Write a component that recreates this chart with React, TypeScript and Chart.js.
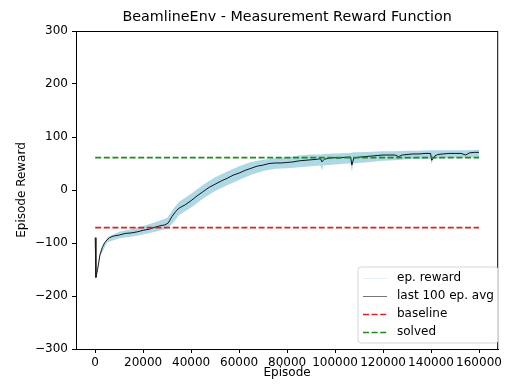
import React, { useEffect, useRef } from "react";
import { Chart, registerables } from "chart.js";

Chart.register(...registerables);

const TITLE = "BeamlineEnv - Measurement Reward Function";
const X_LABEL = "Episode";
const Y_LABEL = "Episode Reward";

const X_TICKS = [0, 20000, 40000, 60000, 80000, 100000, 120000, 140000, 160000];
const Y_TICKS = [-300, -200, -100, 0, 100, 200, 300];

// last 100 episode average
const AVG_X = [0, 300, 1000, 2000, 3000, 4000, 5000, 6000, 7500, 10000, 12500, 15000, 17500, 20000, 22500, 25000, 27500, 29000, 30500, 32000, 33500, 35000, 37500, 40000, 42500, 45000, 47500, 50000, 52500, 55000, 57500, 60000, 62500, 65000, 67500, 70000, 72500, 75000, 77500, 80000, 82500, 85000, 87500, 90000, 92500, 94000, 94500, 95500, 97500, 100000, 101000, 102500, 105000, 106500, 107000, 107800, 110000, 112500, 115000, 117500, 120000, 122500, 125000, 126500, 128000, 130000, 132500, 135000, 137500, 139800, 140300, 141500, 142800, 145000, 147500, 150000, 152500, 154500, 156000, 158000, 160000];
const AVG_Y = [-90, -165, -150, -122, -108, -99, -94, -90, -87, -85, -82, -81, -79, -76, -74, -70, -67, -66, -62, -50, -41, -34, -28, -20, -11, -3, 5, 11, 17, 22, 28, 32, 37, 41, 45, 47, 50, 51, 51, 52, 53, 55, 56, 57, 58, 59, 53, 58, 60, 61, 60, 61, 62, 62, 47, 60, 62, 63, 64, 65, 66, 66, 66, 63, 66, 67, 68, 68, 69, 69, 56, 64, 67, 68, 69, 69, 69, 66, 70, 71, 71];

// ep. reward envelope (high / low)
const EP_X = [2000, 5000, 10000, 15000, 20000, 25000, 30000, 32500, 35000, 40000, 45000, 50000, 55000, 60000, 65000, 70000, 75000, 80000, 85000, 90000, 94000, 94500, 95000, 100000, 105000, 106500, 107000, 107500, 110000, 115000, 120000, 125000, 130000, 135000, 139800, 140300, 140800, 145000, 150000, 155000, 160000];
const EP_HIGH = [-118, -89, -79, -74, -68, -61, -53, -36, -22, -7, 10, 24, 35, 45, 53, 57, 60, 62, 65, 67, 67, 67, 68, 69, 70, 70, 70, 71, 71, 72, 73, 73, 74, 74, 75, 75, 75, 75, 75, 75, 76];
const EP_LOW = [-126, -99, -91, -88, -84, -79, -73, -62, -47, -33, -16, -2, 9, 19, 29, 36, 40, 41, 43, 45, 46, 36, 46, 48, 50, 50, 34, 50, 51, 53, 55, 56, 58, 59, 59, 48, 59, 60, 61, 61, 62];

const BASELINE = -71;
const SOLVED = 61;
const LINE_X = [0, 160000];

const LEGEND_LABELS = ["ep. reward", "last 100 ep. avg", "baseline", "solved"];

const FONT = "'DejaVu Sans', sans-serif";

export default function App() {
  const ref = useRef<HTMLCanvasElement | null>(null);

  useEffect(() => {
    if (!ref.current) return;
    const pts = (xs: number[], ys: number[]) => xs.map((x, i) => ({ x, y: ys[i] }));

    const decor = {
      id: "decor",
      afterDraw(chart: any) {
        const { ctx, chartArea } = chart;
        const { left, right, top, bottom } = chartArea;
        ctx.save();
        // frame
        ctx.strokeStyle = "#000";
        ctx.lineWidth = 1;
        ctx.strokeRect(left + 0.5, top + 0.5, right - left - 1, bottom - top);
        // title
        ctx.fillStyle = "#000";
        ctx.textAlign = "center";
        ctx.textBaseline = "middle";
        ctx.font = `14.3px ${FONT}`;
        ctx.fillText(TITLE, (left + right) / 2, 17);
        ctx.font = `12px ${FONT}`;
        ctx.fillText(X_LABEL, (left + right) / 2, 373);
        ctx.save();
        ctx.translate(22, (top + bottom) / 2);
        ctx.rotate(-Math.PI / 2);
        ctx.fillText(Y_LABEL, 0, 0);
        ctx.restore();
        // legend
        const bx = 358, by = 267, bw = 140, bh = 76, r = 3;
        ctx.beginPath();
        ctx.moveTo(bx + r, by);
        ctx.lineTo(bx + bw - r, by);
        ctx.quadraticCurveTo(bx + bw, by, bx + bw, by + r);
        ctx.lineTo(bx + bw, by + bh - r);
        ctx.quadraticCurveTo(bx + bw, by + bh, bx + bw - r, by + bh);
        ctx.lineTo(bx + r, by + bh);
        ctx.quadraticCurveTo(bx, by + bh, bx, by + bh - r);
        ctx.lineTo(bx, by + r);
        ctx.quadraticCurveTo(bx, by, bx + r, by);
        ctx.closePath();
        ctx.fillStyle = "rgba(255,255,255,0.85)";
        ctx.fill();
        ctx.strokeStyle = "#d6d6d6";
        ctx.lineWidth = 1;
        ctx.stroke();
        const styles = [
          { c: "rgba(173,216,230,0.35)", w: 1, d: [] as number[] },
          { c: "#777", w: 1, d: [] as number[] },
          { c: "#e02020", w: 1.6, d: [6, 2.6] },
          { c: "#1f8a1f", w: 1.6, d: [6, 2.6] },
        ];
        ctx.textAlign = "left";
        LEGEND_LABELS.forEach((lab, i) => {
          const y = 278 + i * 18;
          const s = styles[i];
          ctx.beginPath();
          ctx.setLineDash(s.d);
          ctx.strokeStyle = s.c;
          ctx.lineWidth = s.w;
          ctx.moveTo(363, y + 0.5);
          ctx.lineTo(387, y + 0.5);
          ctx.stroke();
          ctx.setLineDash([]);
          ctx.fillStyle = "#000";
          ctx.font = `12px ${FONT}`;
          ctx.fillText(lab, 397, y);
        });
        ctx.restore();
      },
    };

    const chart = new Chart(ref.current, {
      type: "line",
      data: {
        datasets: [
          {
            label: "ep. reward",
            data: pts(EP_X, EP_HIGH),
            borderWidth: 0,
            borderColor: "rgba(0,0,0,0)",
            backgroundColor: "#add8e6",
            pointRadius: 0,
            fill: "+1",
            order: 10,
          },
          {
            label: "ep. reward low",
            data: pts(EP_X, EP_LOW),
            borderWidth: 0,
            borderColor: "rgba(0,0,0,0)",
            pointRadius: 0,
            fill: false,
            order: 11,
          },
          {
            label: "last 100 ep. avg",
            data: pts(AVG_X, AVG_Y),
            borderColor: "#151515",
            borderWidth: 1,
            pointRadius: 0,
            fill: false,
            order: 5,
          },
          {
            label: "baseline",
            data: LINE_X.map((x) => ({ x, y: BASELINE })),
            borderColor: "#e02020",
            borderWidth: 1.6,
            borderDash: [6, 2.6],
            pointRadius: 0,
            fill: false,
            order: 2,
          },
          {
            label: "solved",
            data: LINE_X.map((x) => ({ x, y: SOLVED })),
            borderColor: "#1f8a1f",
            borderWidth: 1.6,
            borderDash: [6, 2.6],
            pointRadius: 0,
            fill: false,
            order: 1,
          },
        ],
      },
      options: {
        responsive: false,
        animation: false,
        events: [],
        layout: { padding: { top: 31, right: 2, left: 0, bottom: 0 } },
        plugins: {
          legend: { display: false },
          title: { display: false },
          tooltip: { enabled: false },
        },
        elements: { line: { tension: 0 } },
        scales: {
          x: {
            type: "linear",
            min: -8000,
            max: 168000,
            afterBuildTicks: (s: any) => {
              s.ticks = X_TICKS.map((v) => ({ value: v }));
            },
            afterFit: (s: any) => {
              s.height = 38;
            },
            grid: { display: true, drawOnChartArea: false, drawTicks: true, tickLength: 4, color: "#000" },
            border: { display: true, color: "#000", width: 1 },
            ticks: {
              color: "#000",
              font: { family: FONT, size: 12 },
              padding: 3,
              maxRotation: 0,
              autoSkip: false,
              callback: (v: any) => String(v),
            },
          },
          y: {
            type: "linear",
            min: -300,
            max: 300,
            afterBuildTicks: (s: any) => {
              s.ticks = Y_TICKS.map((v) => ({ value: v }));
            },
            afterFit: (s: any) => {
              s.width = 76;
            },
            grid: { display: true, drawOnChartArea: false, drawTicks: true, tickLength: 4, color: "#000" },
            border: { display: true, color: "#000", width: 1 },
            ticks: {
              color: "#000",
              font: { family: FONT, size: 12 },
              padding: 4,
              autoSkip: false,
              callback: (v: any) => String(v).replace("-", "\u2212"),
            },
          },
        },
      },
      plugins: [decor],
    });
    return () => chart.destroy();
  }, []);

  return (
    <canvas
      ref={ref}
      width={505}
      height={387}
      style={{ position: "fixed", left: 0, top: 0, width: 505, height: 387 }}
    />
  );
}
